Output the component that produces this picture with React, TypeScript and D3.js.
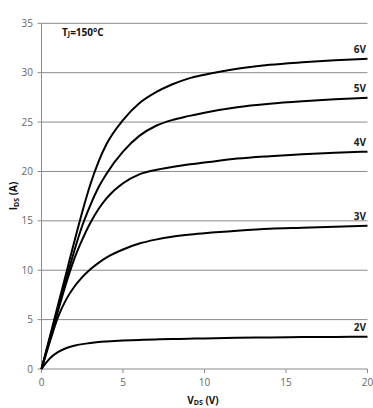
import React from "react";
import * as d3 from "d3";

const vds = [0, 0.5, 1, 1.5, 2, 2.5, 3, 3.5, 4, 5, 6, 7, 8, 9, 10, 12, 14, 16, 18, 20];
const i6V = [0, 3.2, 6.4, 9.6, 12.8, 15.9, 18.7, 21.0, 22.8, 25.2, 26.9, 28.0, 28.8, 29.4, 29.8, 30.4, 30.8, 31.05, 31.25, 31.4];
const i5V = [0, 3.0, 6.0, 9.0, 11.9, 14.5, 16.6, 18.4, 19.8, 22.0, 23.6, 24.6, 25.2, 25.6, 25.95, 26.5, 26.85, 27.1, 27.3, 27.45];
const i4V = [0, 2.9, 5.8, 8.6, 11.1, 13.1, 14.8, 16.2, 17.3, 18.8, 19.7, 20.15, 20.45, 20.7, 20.9, 21.3, 21.55, 21.75, 21.9, 22.0];
const i3V = [0, 2.7, 5.2, 7.0, 8.3, 9.3, 10.1, 10.75, 11.3, 12.1, 12.7, 13.1, 13.4, 13.6, 13.75, 14.0, 14.2, 14.3, 14.4, 14.5];
const i2V = [0, 1.05, 1.7, 2.1, 2.35, 2.52, 2.64, 2.73, 2.79, 2.88, 2.94, 2.99, 3.03, 3.07, 3.1, 3.16, 3.2, 3.23, 3.25, 3.27];
const seriesNames = ["6V", "5V", "4V", "3V", "2V"];
const seriesValues = [i6V, i5V, i4V, i3V, i2V];
const xTicks = [0, 5, 10, 15, 20];
const yTicks = [0, 5, 10, 15, 20, 25, 30, 35];

const W = 373;
const H = 408;
const FONT = "'Open Sans', 'DejaVu Sans', sans-serif";

export default function App() {
  const x = d3.scaleLinear().domain([0, 20]).range([41.5, 367.5]);
  const y = d3.scaleLinear().domain([0, 35]).range([369, 23.3]);
  const line = d3
    .line<[number, number]>()
    .x((d) => x(d[0]))
    .y((d) => y(d[1]))
    .curve(d3.curveMonotoneX);

  return (
    <svg
      width={W}
      height={H}
      style={{ position: "absolute", left: 0, top: 0, background: "#fff" }}
      fontFamily={FONT}
    >
      {yTicks.map((t) => (
        <line
          key={"g" + t}
          x1={x(0) - 4}
          x2={x(20)}
          y1={y(t)}
          y2={y(t)}
          stroke="#8a8a8a"
          strokeWidth={1}
        />
      ))}
      <line x1={x(0)} x2={x(0)} y1={y(35)} y2={y(0)} stroke="#8a8a8a" strokeWidth={1} />
      {xTicks.map((t) => (
        <line
          key={"xt" + t}
          x1={x(t)}
          x2={x(t)}
          y1={y(0)}
          y2={y(0) + 4}
          stroke="#8a8a8a"
          strokeWidth={1}
        />
      ))}
      {yTicks.map((t) => (
        <text
          key={"yl" + t}
          x={33}
          y={y(t)}
          dy="0.35em"
          textAnchor="end"
          fontSize={10}
          fill="#666"
        >
          {t}
        </text>
      ))}
      {xTicks.map((t) => (
        <text
          key={"xl" + t}
          x={x(t)}
          y={386}
          textAnchor="middle"
          fontSize={10}
          fill="#666"
        >
          {t}
        </text>
      ))}
      {seriesValues.map((vals, i) => (
        <path
          key={"c" + i}
          d={line(vds.map((v, j) => [v, vals[j]] as [number, number])) || ""}
          fill="none"
          stroke="#000"
          strokeWidth={2}
        />
      ))}
      {seriesValues.map((vals, i) => (
        <text
          key={"sl" + i}
          x={366}
          y={y(vals[vals.length - 1]) - 6}
          textAnchor="end"
          fontSize={10}
          fontWeight="bold"
          fill="#222"
        >
          {seriesNames[i]}
        </text>
      ))}
      <text x={62} y={36} fontSize={10} fontWeight="bold" fill="#111">
        T<tspan fontSize={7}>J</tspan>=150°C
      </text>
      <text
        transform={`translate(17,196) rotate(-90)`}
        textAnchor="middle"
        fontSize={10}
        fontWeight="bold"
        fill="#111"
      >
        I<tspan fontSize={7} dy={2}>DS</tspan>
        <tspan dy={-2}> (A)</tspan>
      </text>
      <text x={203} y={404} textAnchor="middle" fontSize={10} fontWeight="bold" fill="#111">
        V<tspan fontSize={7} dy={1}>DS</tspan>
        <tspan dy={-1}> (V)</tspan>
      </text>
    </svg>
  );
}
